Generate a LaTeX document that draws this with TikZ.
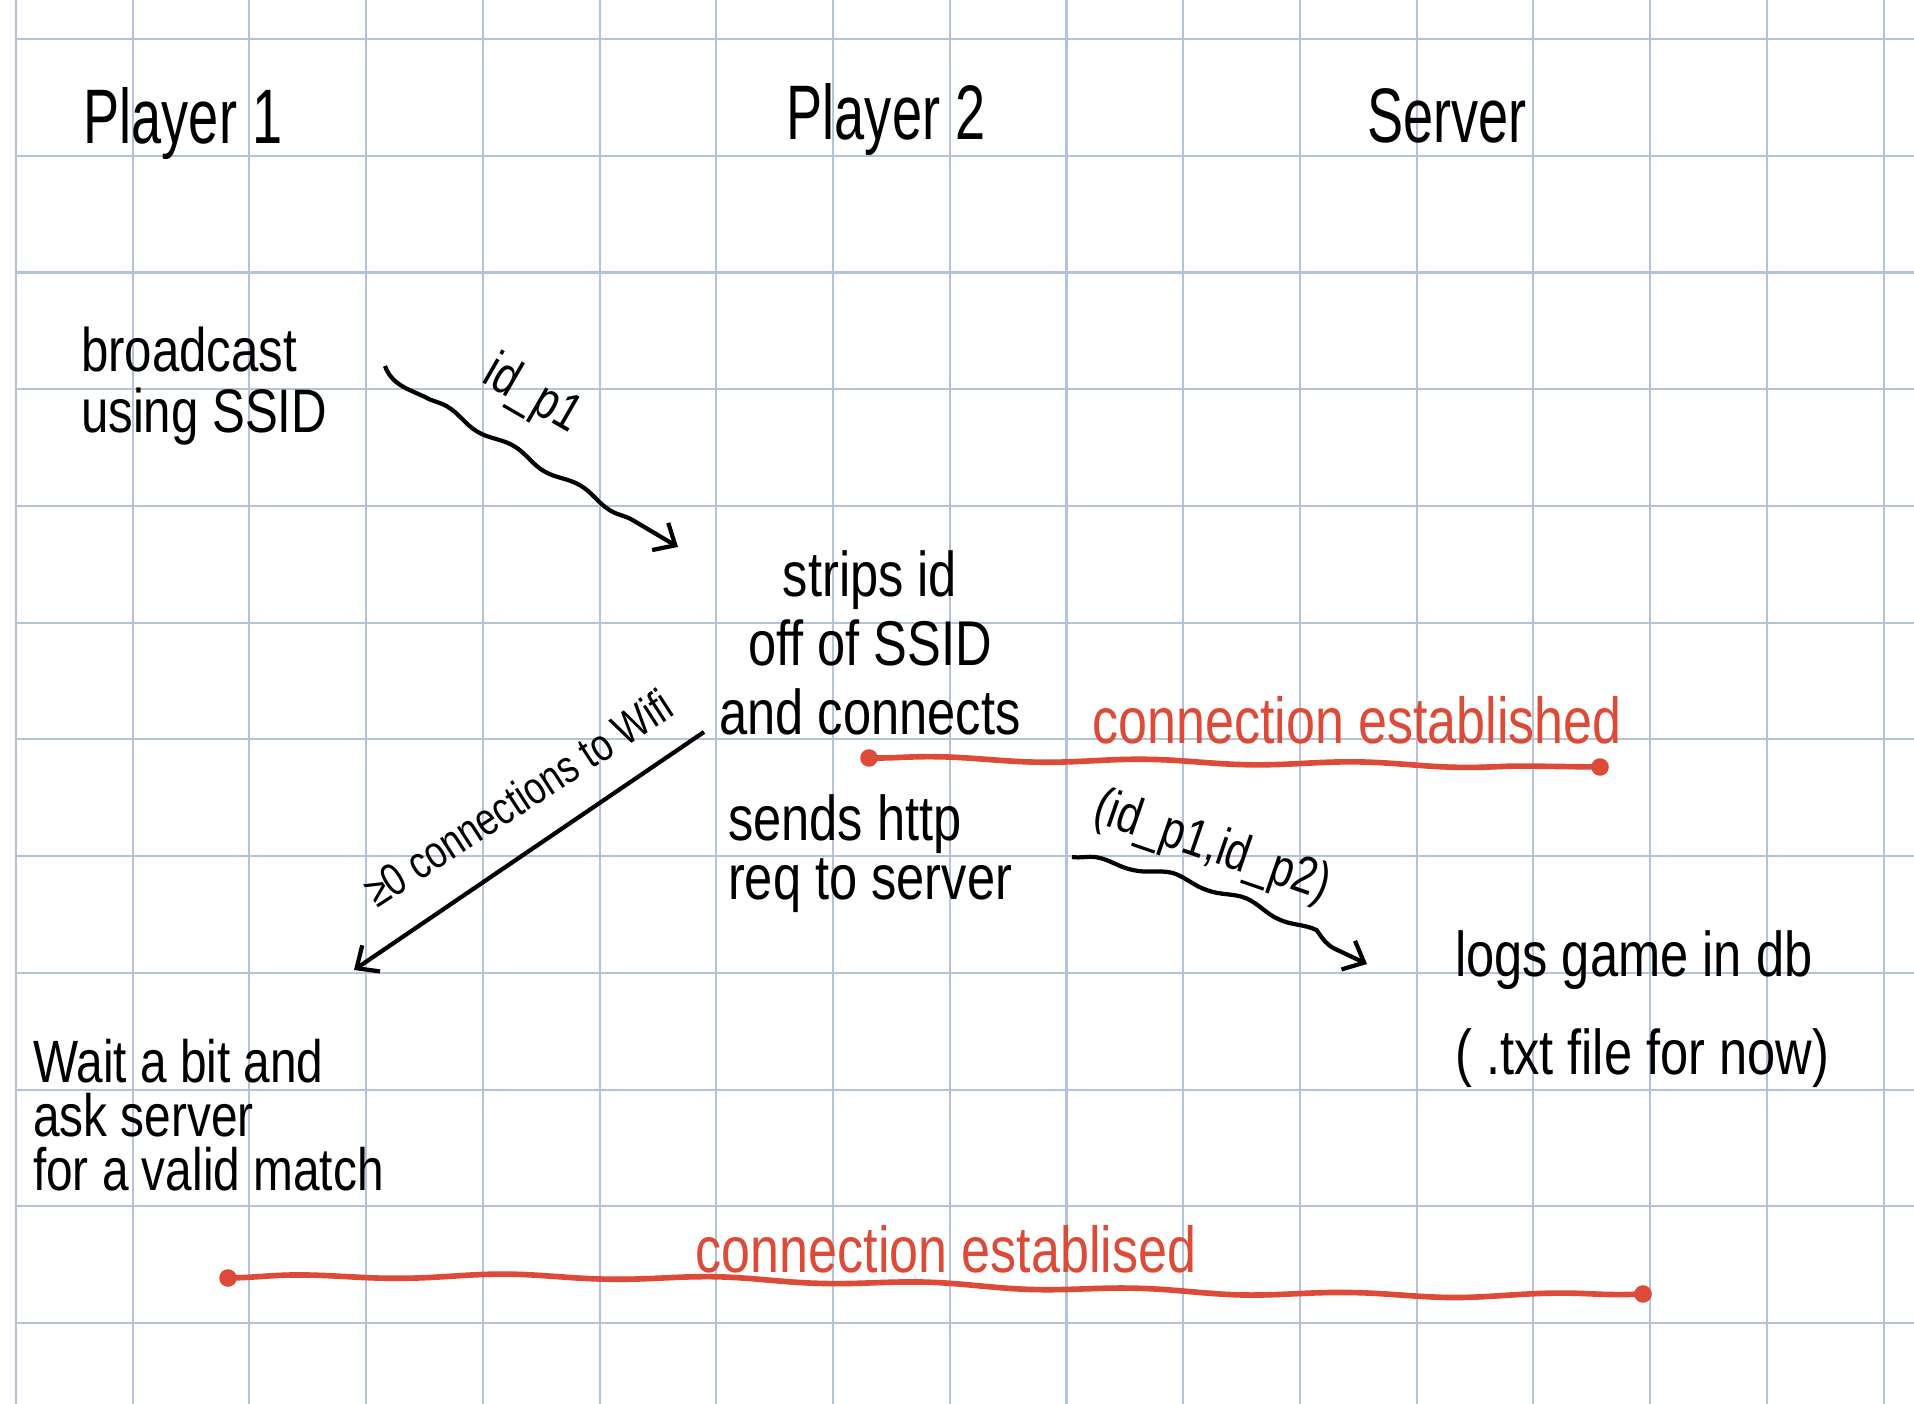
\documentclass[tikz,border=0pt]{standalone}
\usepackage{fontspec}
\newfontfamily\handfont{Liberation Sans}[FakeStretch=0.80]
\newfontfamily\titlefont{Liberation Sans}[FakeStretch=0.70]
\usetikzlibrary{positioning}
\usetikzlibrary{decorations.pathmorphing}
\usetikzlibrary{arrows.meta}
\definecolor{myGrid}{RGB}{180,194,218}
\definecolor{myRed}{RGB}{222,74,56}

\begin{document}
\begin{tikzpicture}[line width=1.2pt,>={Straight Barb[length=5pt,width=9pt]},
  title node/.style={font=\titlefont\fontsize{22}{26}\selectfont,inner sep=0pt},
  step text/.style={font=\handfont\fontsize{18}{19.6}\selectfont,inner sep=0pt},
  msg label/.style={font=\handfont\fontsize{15}{18}\selectfont,inner sep=0pt},
  small label/.style={font=\handfont\fontsize{13}{16}\selectfont,inner sep=0pt},
  red label/.style={font=\handfont\fontsize{18.5}{22}\selectfont,text=myRed,inner sep=0pt},
  msg arrow/.style={->,draw=black,line width=1.2pt},
  wavy/.style={decoration={snake,amplitude=0.9pt,segment length=22pt,post length=7pt}},
  red line/.style={draw=myRed,line width=1.6pt,decorate,decoration={snake,amplitude=0.6pt,segment length=60pt}},
  end dot/.style={circle,fill=myRed,inner sep=0pt,minimum size=5pt}]

% The paper
\fill[white] (0,0) rectangle (19.14,-14.04);
\useasboundingbox (0,0) rectangle (19.14,-14.04);
\foreach \i in {0,...,16}
  \draw[myGrid,line width=0.6pt] ({0.159+1.1673*\i},0) -- ({0.159+1.1673*\i},-14.04);
\foreach \j in {0,...,11}
  \draw[myGrid,line width=0.6pt] (0.159,{-0.39-1.1673*\j}) -- (19.14,{-0.39-1.1673*\j});

% The actors
\node[title node,anchor=base] (P1) at (1.83,-1.44) {Player 1};
\node[title node,anchor=base] (P2) at (8.86,-1.40) {Player 2};
\node[title node,anchor=base] (Srv) at (14.47,-1.43) {Server};

% The steps
\node[step text,align=left,anchor=west,font=\handfont\fontsize{17.5}{17.4}\selectfont] (Bcast) at (0.79,-3.86) {broadcast\\using SSID};
\node[step text,align=center,font=\handfont\fontsize{18}{19.6}\selectfont] (Strip) at (8.70,-6.43) {strips id\\off of SSID\\and connects};
\node[step text,align=left,anchor=west,font=\handfont\fontsize{18}{16.8}\selectfont] (Send) at (7.26,-8.54) {sends http\\req to server};
\node[step text,align=left,anchor=west,font=\handfont\fontsize{18}{27.9}\selectfont] (Logs) at (14.53,-10.09) {logs game in db\\( .txt file for now)};
\node[step text,align=left,anchor=west,font=\handfont\fontsize{17}{15.3}\selectfont] (Wait) at (0.31,-11.15) {Wait a bit and\\ask server\\for a valid match};

% The messages
\coordinate (idA) at (3.85,-3.66);
\coordinate (idB) at (4.25,-3.97);
\coordinate (idC) at (6.78,-5.47);
\draw[msg arrow,wavy] (idA) to[out=-70,in=155] (idB) decorate{-- (idC)};
\node[msg label,rotate=-30] (idLbl) at (5.32,-3.96) {id\_p1};

\coordinate (wifiA) at (7.04,-7.32);
\coordinate (wifiB) at (3.54,-9.70);
\draw[msg arrow] (wifiA) -- (wifiB);
\node[small label,rotate=33] (wifiLbl) at (5.18,-7.98) {≥0 connections to Wifi};

\coordinate (tupA) at (10.72,-8.57);
\coordinate (tupB) at (13.67,-9.64);
\draw[msg arrow,wavy,decorate] (tupA) to[out=-8,in=155] (tupB);
\node[msg label,rotate=-19] (tupLbl) at (12.12,-8.48) {(id\_p1,id\_p2)};

% The connections
\node[end dot] (estA) at (8.69,-7.58) {};
\node[end dot] (estB) at (16.00,-7.67) {};
\draw[red line] (estA.center) -- (estB.center);
\node[red label,anchor=base] (estLbl) at (13.57,-7.44) {connection established};

\node[end dot] (matchA) at (2.28,-12.78) {};
\node[end dot] (matchB) at (16.43,-12.94) {};
\draw[red line] (matchA.center) .. controls (8,-12.70) and (11,-13.05) .. (matchB.center);
\node[red label,anchor=base] (matchLbl) at (9.46,-12.72) {connection establised};

\end{tikzpicture}
\end{document}
